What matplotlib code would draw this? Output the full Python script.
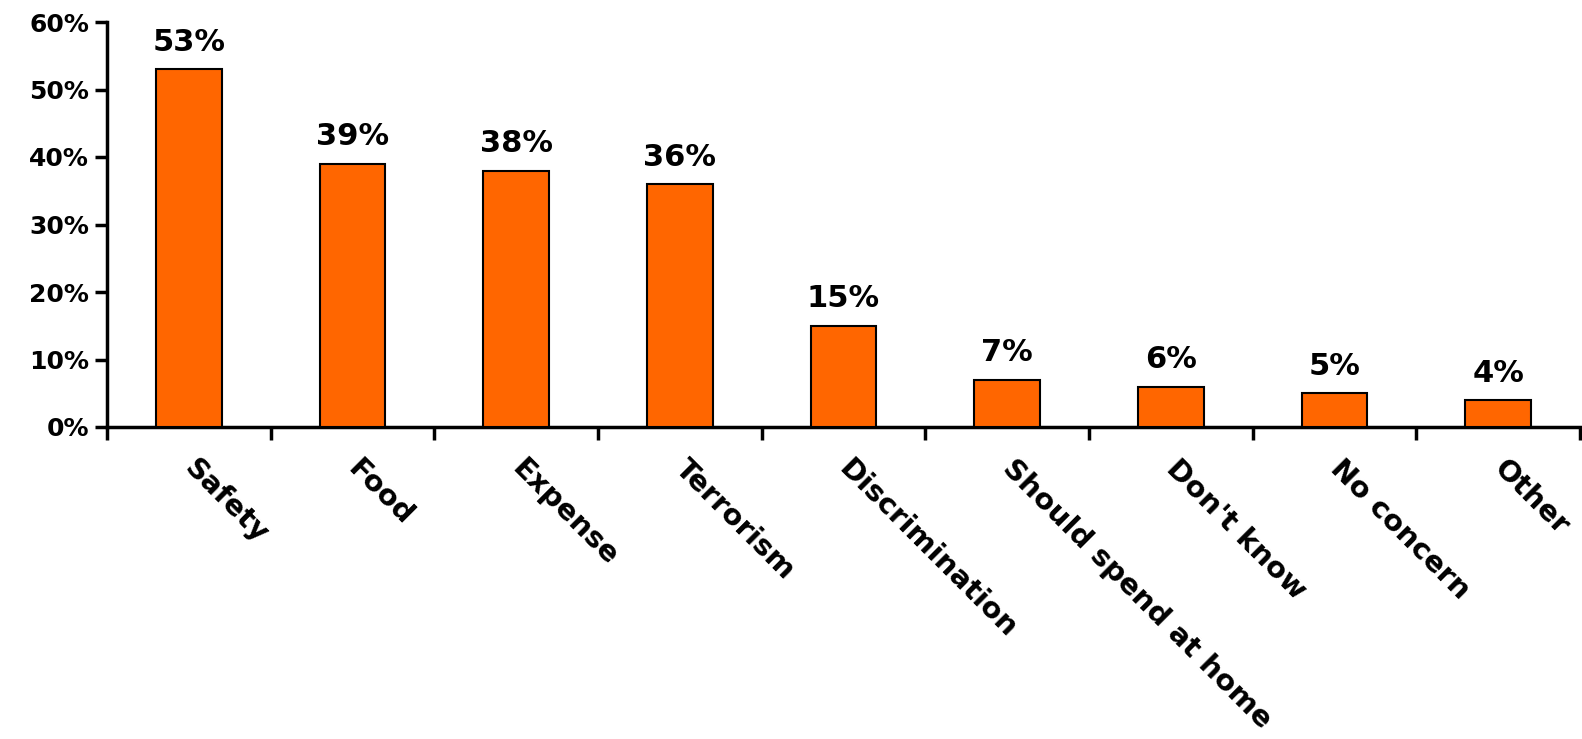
import matplotlib.pyplot as plt

# data
categories = ["Safety", "Food", "Expense", "Terrorism", "Discrimination",
              "Should spend at home", "Don't know", "No concern", "Other"]
values = [53, 39, 38, 36, 15, 7, 6, 5, 4]
yticks = [0, 10, 20, 30, 40, 50, 60]

plt.rcParams['font.family'] = ['DejaVu Sans']
plt.rcParams['font.weight'] = 'bold'

fig = plt.figure(figsize=(15.82, 7.39), dpi=100)
ax = fig.add_axes([107 / 1582, 1 - 427 / 739, (1580 - 107) / 1582, (427 - 22) / 739])

x = list(range(len(categories)))
ax.bar(x, values, width=0.4, color="#FF6600", edgecolor="black", linewidth=1.5, zorder=3)

for xi, v in zip(x, values):
    ax.annotate(f"{v}%", (xi, v), xytext=(0, 9), textcoords="offset points",
                ha="center", va="bottom", fontsize=22, fontweight="bold")

ax.set_xlim(-0.5, len(categories) - 0.5)
ax.set_ylim(0, 60)
ax.set_yticks(yticks)
ax.set_yticklabels([f"{t}%" for t in yticks], fontsize=18, fontweight="bold")

# ticks on category boundaries, labels at centres
ax.set_xticks([i - 0.5 for i in range(len(categories) + 1)])
ax.set_xticklabels([])
ax.set_xticks(x, minor=True)
ax.set_xticklabels(categories, minor=True, rotation=-45, ha="left", va="center",
                   rotation_mode="anchor", fontsize=21, fontweight="bold")
ax.tick_params(axis="x", which="minor", length=0, pad=27)
ax.tick_params(axis="x", which="major", length=9, width=2.5, direction="out")
ax.tick_params(axis="y", length=9, width=2.5, direction="out", pad=4)

for s in ["top", "right"]:
    ax.spines[s].set_visible(False)
for s in ["left", "bottom"]:
    ax.spines[s].set_linewidth(2.5)

fig.savefig("out.png", dpi=100)
